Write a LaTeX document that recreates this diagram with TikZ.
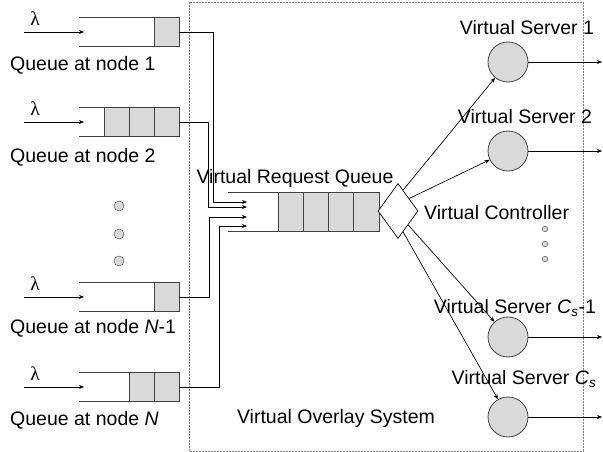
\documentclass[tikz,border=0pt]{standalone}
\usepackage{fontspec}
\setmainfont{Liberation Sans}
\newfontfamily\lamfont{Liberation Serif}
\usetikzlibrary{arrows.meta,shapes.geometric,calc}
\definecolor{cellgray}{HTML}{D9D9D9}
\definecolor{linegray}{HTML}{404040}
\tikzset{
  qline/.style={draw=linegray, line width=0.9pt},
  cell/.style={qline, fill=cellgray},
  conn/.style={line width=0.7pt, -{Stealth[length=5pt,width=4pt]}},
  server/.style={circle, draw=linegray, line width=0.8pt, fill=cellgray, minimum size=40pt, inner sep=0pt},
  lbl/.style={font=\fontsize{19.5}{22}\selectfont, inner sep=0pt}
}
\begin{document}
\begin{tikzpicture}[x=1pt,y=-1pt]
        \useasboundingbox (0,0) rectangle (603,452);
        % overlay system border
        \draw[gray, line width=0.7pt, dash pattern=on 2pt off 1pt] (189,2) rectangle (583,451);
        \node[lbl] (overlay) at (336,418) {Virtual Overlay System};
        % queues at the nodes
        \foreach \name/\ty/\n in {q1/17/1, q2/107/3, qn1/282/1, qn/372/2} {
            \draw[qline] (79,\ty) -- (179,\ty) -- (179,\ty+29) -- (79,\ty+29);
            \foreach \k in {1,...,\n}
                \draw[cell] ({179-25*\k},\ty) rectangle ++(25,29);
            \coordinate (\name) at (179,\ty+15);
            \coordinate (\name in) at (24,\ty+15);
            \coordinate (\name tip) at (84,\ty+15);
            \draw[conn] (\name in) -- (\name tip);
            \node[lbl, font=\lamfont\fontsize{19.5}{22}\selectfont] (\name lam) at (35,\ty+2) {λ};
        }
        \node[lbl, anchor=west] (q1lbl) at (10,65) {Queue at node 1};
        \node[lbl, anchor=west] (q2lbl) at (10,157) {Queue at node 2};
        \node[lbl, anchor=west] (qn1lbl) at (10,328) {Queue at node \textit{N}-1};
        \node[lbl, anchor=west] (qnlbl) at (10,420) {Queue at node \textit{N}};
        % dots between queues
        \foreach \dy in {206,234,261}
            \draw[linegray, fill=cellgray] (119,\dy) circle (5);
        % virtual request queue
        \draw[qline] (228,192) -- (379,192) -- (379,231) -- (228,231);
        \foreach \cx in {278,303.25,328.5,353.75}
            \draw[cell] (\cx,192) rectangle ++(25.25,39);
        \node[lbl] (rqlbl) at (295,178) {Virtual Request Queue};
        \coordinate (in1) at (247,202);
        \coordinate (in2) at (247,207);
        \coordinate (in3) at (247,217);
        \coordinate (in4) at (247,226);
        \draw[conn] (q1) -- ++(34,0) |- (in1);
        \draw[conn] (q2) -- ++(29,0) |- (in2);
        \draw[conn] (qn1) -- ++(30,0) |- (in3);
        \draw[conn] (qn) -- ++(40,0) |- (in4);
        % controller
        \node[diamond, draw, line width=0.7pt, fill=white, minimum width=40pt, minimum height=55pt, inner sep=0pt] (ctrl) at (398,211) {};
        \node[lbl, anchor=west] (ctrllbl) at (424,213) {Virtual Controller};
        \foreach \dy in {229,244,259}
            \draw[linegray, fill=cellgray] (545,\dy) circle (2.8);
        % virtual servers
        \node[server] (s1) at (508,62) {};
        \node[server] (s2) at (508,151) {};
        \node[server] (sc1) at (508,337) {};
        \node[server] (sc) at (508,417) {};
        \node[lbl] (s1lbl) at (527,28) {Virtual Server 1};
        \node[lbl] (s2lbl) at (525,117) {Virtual Server 2};
        \node[lbl] (sc1lbl) at (515,308) {Virtual Server \textit{C}\textsubscript{\textit{s}}-1};
        \node[lbl] (sclbl) at (524,379) {Virtual Server \textit{C}\textsubscript{\textit{s}}};
        \draw[conn] ($(ctrl.north)!0.25!(ctrl.east)$) -- (s1);
        \draw[conn] ($(ctrl.north)!0.55!(ctrl.east)$) -- (s2);
        \draw[conn] ($(ctrl.south)!0.5!(ctrl.east)$) -- (sc1);
        \draw[conn] ($(ctrl.south)!0.25!(ctrl.east)$) -- (sc);
        \foreach \s in {s1,s2,sc1,sc} {
            \coordinate (\s out) at ($(\s.center)+(94,0)$);
            \draw[conn] (\s) -- (\s out);
        }
\end{tikzpicture}
\end{document}
